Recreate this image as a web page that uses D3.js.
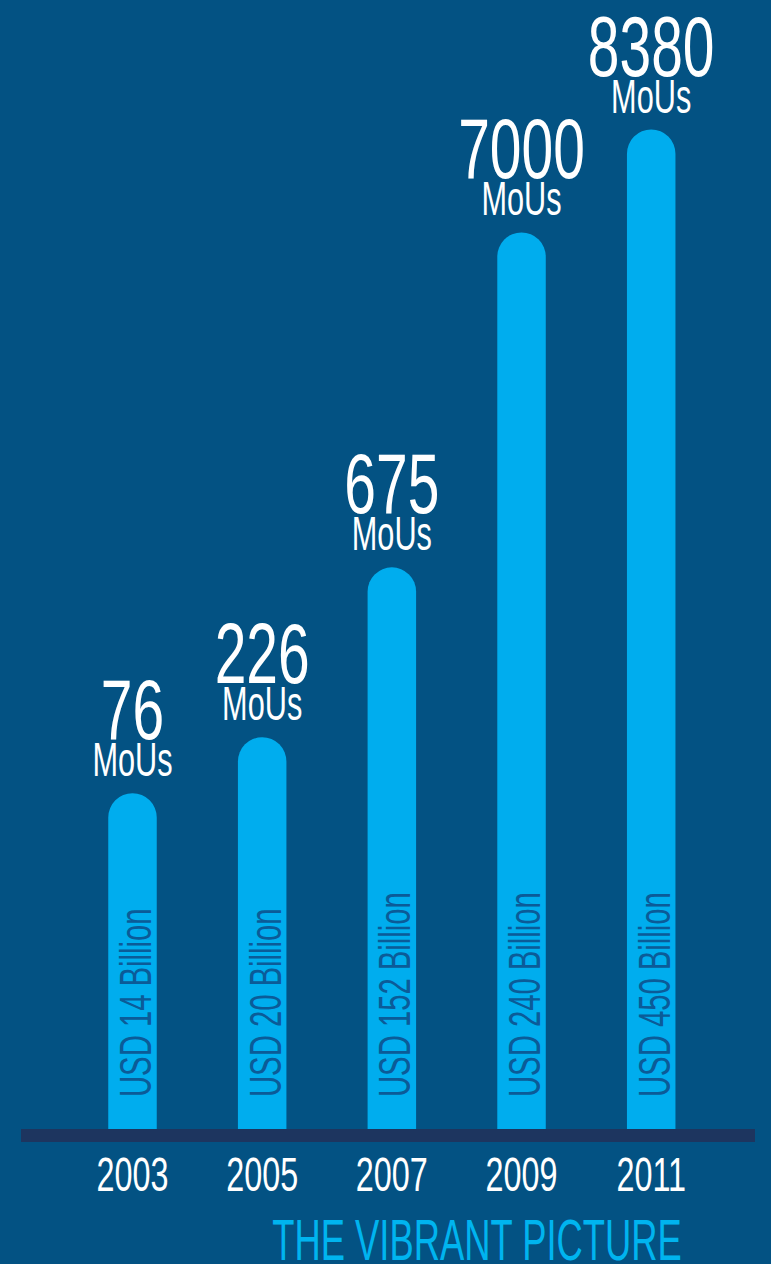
<!DOCTYPE html>
<meta charset="utf-8">
<head>
  <title>The vibrant picture</title>
</head>
<body style="margin:0">
<style>
body { background: #035283; }
text { font-family: "Liberation Sans", Arial, sans-serif; }
.num { font-size: 85px; fill: #fff; text-anchor: middle; }
.unit { font-size: 48px; fill: #fff; text-anchor: middle; }
.year { font-size: 49px; fill: #fff; text-anchor: middle; }
.usd { font-size: 45px; fill: #0b5b98; }
.title { font-size: 58px; fill: #00b4ef; text-anchor: middle; }
</style>
<svg width="771" height="1264"></svg>
<script src="https://d3js.org/d3.v7.min.js"></script>
<script>

var years = ["2003", "2005", "2007", "2009", "2011"];
var mous = [76, 226, 675, 7000, 8380];
var usdBillion = [14, 20, 152, 240, 450];
// bar length in % of the tallest bar (the bars are not to scale in the original)
var barLevel = [33.6, 39.2, 56.2, 89.7, 100];
var title = "THE VIBRANT PICTURE";

var data = years.map(function(y, i) {
  return { year: y, mous: mous[i], usd: usdBillion[i], level: barLevel[i] };
});

var svg = d3.select("svg"),
    width = +svg.attr("width"),
    height = +svg.attr("height"),
    base = 1129,
    barW = 48.5,
    r = barW / 2;

var x = d3.scalePoint().domain(years).range([132.5, 651.2]);
var y = d3.scaleLinear().domain([0, 100]).range([base, 129.5]);

// squeeze text horizontally to mimic the condensed face
function condense(k) {
  return function() {
    var w = this.getComputedTextLength();
    this.setAttribute("textLength", w * k);
    this.setAttribute("lengthAdjust", "spacingAndGlyphs");
  };
}

svg.append("rect")
    .attr("width", width)
    .attr("height", height)
    .attr("fill", "#035283");

var bar = svg.selectAll(".bar")
    .data(data)
    .enter().append("g")
    .attr("class", "bar");

bar.append("path")
    .attr("fill", "#00adee")
    .attr("d", function(d) {
      var x0 = x(d.year) - r, x1 = x(d.year) + r, top = y(d.level);
      return "M" + x0 + "," + base +
             "V" + (top + r) +
             "A" + r + "," + r + " 0 0 1 " + x1 + "," + (top + r) +
             "V" + base + "Z";
    });

bar.append("text")
    .attr("class", "usd")
    .attr("transform", function(d) { return "translate(" + (x(d.year) + 18.5) + "," + 1097 + ") rotate(-90)"; })
    .text(function(d) { return "USD " + d.usd + " Billion"; })
    .each(condense(0.65));

bar.append("text")
    .attr("class", "unit")
    .attr("x", function(d) { return x(d.year); })
    .attr("y", function(d) { return y(d.level) - 17; })
    .text("MoUs")
    .each(condense(0.64));

bar.append("text")
    .attr("class", "num")
    .attr("x", function(d) { return x(d.year); })
    .attr("y", function(d) { return y(d.level) - 54; })
    .text(function(d) { return d.mous; })
    .each(condense(0.67));

// baseline
svg.append("rect")
    .attr("x", 21)
    .attr("y", base)
    .attr("width", 734)
    .attr("height", 13)
    .attr("fill", "#1d355f");

svg.selectAll(".year")
    .data(years)
    .enter().append("text")
    .attr("class", "year")
    .attr("x", function(d) { return x(d); })
    .attr("y", 1191)
    .text(function(d) { return d; })
    .each(condense(0.66));

svg.append("text")
    .attr("class", "title")
    .attr("x", 477)
    .attr("y", 1260)
    .text(title)
    .each(condense(0.627));

</script>
</body>
</html>
